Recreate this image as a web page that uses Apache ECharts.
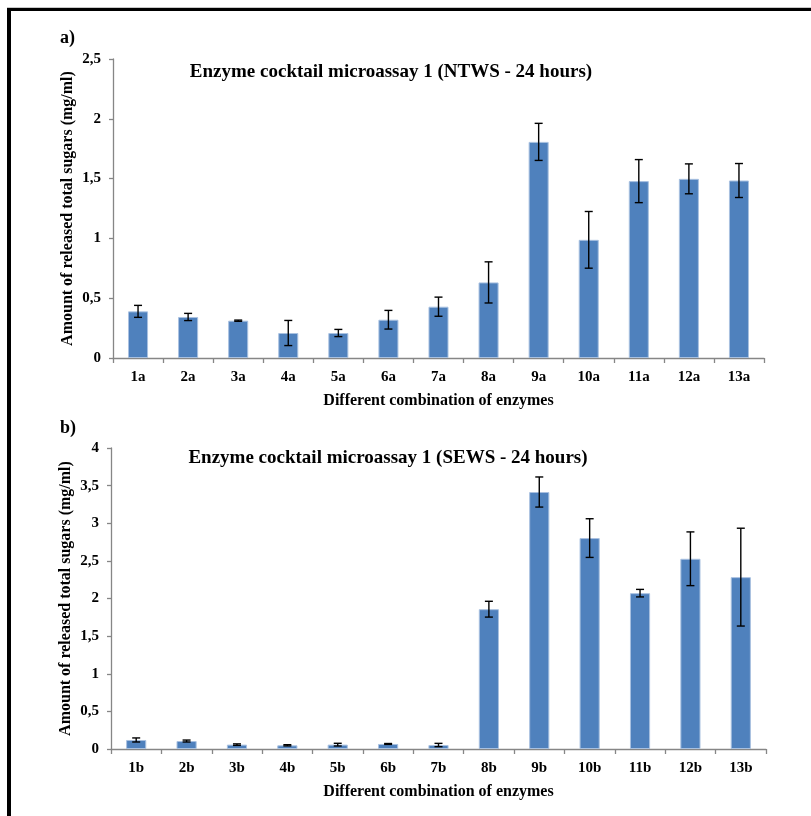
<!DOCTYPE html>
<html>
<head>
<meta charset="utf-8">
<script src="https://cdn.jsdelivr.net/npm/echarts@6/dist/echarts.min.js"></script>
<style>
  html, body { margin: 0; padding: 0; background: #fff; }
  #chart { width: 811px; height: 816px; }
</style>
</head>
<body>
<div id="chart"></div>
<script>
// Released total sugars (mg/ml) after 24 h, mean and error (±) per enzyme combination
const categoriesA = ['1a','2a','3a','4a','5a','6a','7a','8a','9a','10a','11a','12a','13a'];
const valuesA     = [0.39, 0.343, 0.312, 0.209, 0.209, 0.32, 0.429, 0.632, 1.807, 0.988, 1.479, 1.498, 1.484];
const errorsA     = [0.05, 0.03, 0.005, 0.105, 0.03, 0.078, 0.08, 0.172, 0.155, 0.237, 0.18, 0.125, 0.142];

const categoriesB = ['1b','2b','3b','4b','5b','6b','7b','8b','9b','10b','11b','12b','13b'];
const valuesB     = [0.12, 0.106, 0.058, 0.049, 0.058, 0.067, 0.053, 1.858, 3.415, 2.803, 2.071, 2.528, 2.284];
const errorsB     = [0.027, 0.013, 0.01, 0.008, 0.018, 0.006, 0.022, 0.105, 0.2, 0.257, 0.05, 0.357, 0.65];

const titleA = 'Enzyme cocktail microassay 1 (NTWS - 24 hours)';
const titleB = 'Enzyme cocktail microassay 1 (SEWS - 24 hours)';
const yName = 'Amount of released total sugars (mg/ml)';
const xName = 'Different combination of enzymes';

const FONT = '"Liberation Serif", "Times New Roman", serif';
const BAR = '#4f81bd';
const AXIS = '#868686';

const commaFmt = v => String(v).replace('.', ',');

function xAxisFor(gridIndex, cats) {
  return {
    type: 'category', gridIndex, data: cats,
    name: xName, nameLocation: 'middle', nameGap: 35,
    nameMoveOverlap: false,
    nameTextStyle: { fontFamily: FONT, fontWeight: 'bold', fontSize: 16, color: '#000' },
    axisLine: { lineStyle: { color: AXIS, width: 1.3 } },
    axisTick: { show: true, length: 5, alignWithLabel: false, lineStyle: { color: AXIS, width: 1.3 } },
    axisLabel: { fontFamily: FONT, fontWeight: 'bold', fontSize: 15, color: '#000', margin: 12, interval: 0 }
  };
}

function yAxisFor(gridIndex, max) {
  return {
    type: 'value', gridIndex, min: 0, max, interval: 0.5,
    name: yName, nameLocation: 'middle', nameGap: 37, nameRotate: 90,
    nameMoveOverlap: false,
    nameTextStyle: { fontFamily: FONT, fontWeight: 'bold', fontSize: 16, color: '#000' },
    axisLine: { show: true, lineStyle: { color: AXIS, width: 1.3 } },
    axisTick: { show: true, length: 4, lineStyle: { color: AXIS, width: 1.3 } },
    splitLine: { show: false },
    axisLabel: { fontFamily: FONT, fontWeight: 'bold', fontSize: 15, color: '#000', margin: 12, formatter: commaFmt }
  };
}

function errorData(vals, errs) {
  return vals.map((v, i) => [i, v - errs[i], v + errs[i]]);
}

function errorBars(xAxisIndex, yAxisIndex, data) {
  return {
    type: 'custom', xAxisIndex, yAxisIndex, data, z: 10,
    renderItem: (params, api) => {
      const x = api.value(0);
      const lo = api.coord([x, api.value(1)]);
      const hi = api.coord([x, api.value(2)]);
      const cap = 4;
      const style = { stroke: '#000', lineWidth: 1.4 };
      return {
        type: 'group',
        children: [
          { type: 'line', shape: { x1: hi[0], y1: hi[1], x2: lo[0], y2: lo[1] }, style },
          { type: 'line', shape: { x1: hi[0] - cap, y1: hi[1], x2: hi[0] + cap, y2: hi[1] }, style },
          { type: 'line', shape: { x1: lo[0] - cap, y1: lo[1], x2: lo[0] + cap, y2: lo[1] }, style }
        ]
      };
    }
  };
}

function barSeries(xAxisIndex, yAxisIndex, data) {
  return {
    type: 'bar', xAxisIndex, yAxisIndex, data, barWidth: '40%',
    itemStyle: { color: BAR, borderColor: '#a9c1e0', borderWidth: 1 },
    emphasis: { disabled: true }
  };
}

const letterStyle = { fontFamily: FONT, fontWeight: 'bold', fontSize: 18, fill: '#000' };
const titleStyle = { fontFamily: FONT, fontWeight: 'bold', fontSize: 19, fill: '#000' };

const option = {
  backgroundColor: '#fff',
  animation: false,
  grid: [
    { left: 113, right: 47, top: 59, height: 299 },
    { left: 111, right: 45, top: 448, height: 301 }
  ],
  xAxis: [xAxisFor(0, categoriesA), xAxisFor(1, categoriesB)],
  yAxis: [yAxisFor(0, 2.5), yAxisFor(1, 4)],
  series: [
    barSeries(0, 0, valuesA),
    errorBars(0, 0, errorData(valuesA, errorsA)),
    barSeries(1, 1, valuesB),
    errorBars(1, 1, errorData(valuesB, errorsB))
  ],
  graphic: [
    // frame
    { type: 'rect', shape: { x: 7, y: 7, width: 804, height: 1 }, style: { fill: '#c8c8c8' } },
    { type: 'rect', shape: { x: 7, y: 8, width: 804, height: 3 }, style: { fill: '#000' } },
    { type: 'rect', shape: { x: 7, y: 8, width: 4, height: 808 }, style: { fill: '#000' } },
    // panel letters
    { type: 'text', x: 60, y: 38, style: Object.assign({ text: 'a)', textVerticalAlign: 'middle' }, letterStyle) },
    { type: 'text', x: 60, y: 428, style: Object.assign({ text: 'b)', textVerticalAlign: 'middle' }, letterStyle) },
    // panel titles
    { type: 'text', x: 391, y: 72, style: Object.assign({ text: titleA, textAlign: 'center', textVerticalAlign: 'middle' }, titleStyle) },
    { type: 'text', x: 388, y: 458, style: Object.assign({ text: titleB, textAlign: 'center', textVerticalAlign: 'middle' }, titleStyle) }
  ]
};

const chart = echarts.init(document.getElementById('chart'), null, { renderer: 'canvas' });
chart.setOption(option);
</script>
</body>
</html>
